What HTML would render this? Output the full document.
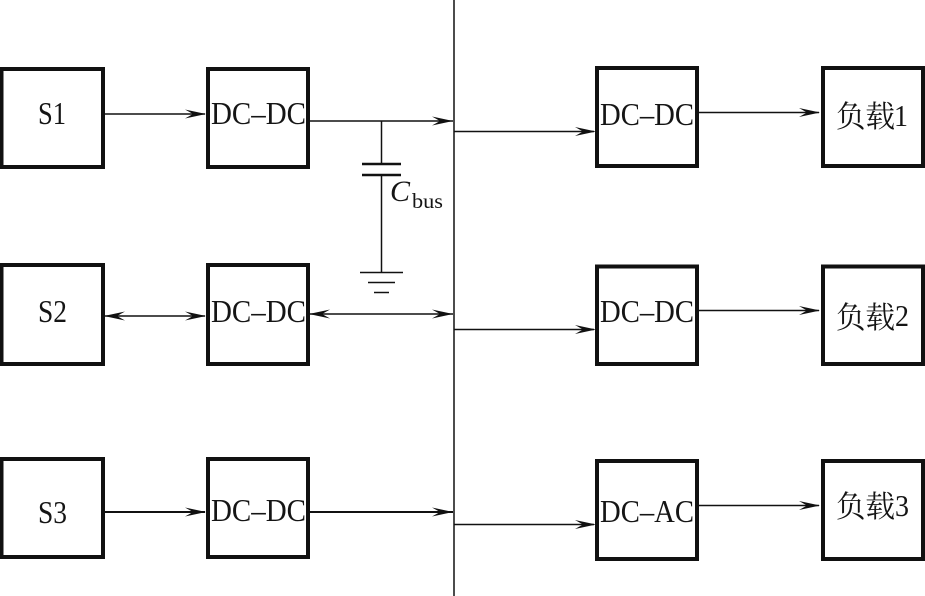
<!DOCTYPE html>
<html>
<head>
<meta charset="utf-8">
<style>
html,body{margin:0;padding:0;background:#fff;}
svg{display:block;}
text{font-family:"Liberation Serif","Noto Serif CJK SC",serif;fill:#151515;}
.b{fill:none;stroke:#111;stroke-width:4;}
.l{stroke:#111;stroke-width:1.5;fill:none;}
.h{fill:#111;stroke:none;}
</style>
</head>
<body>
<svg width="925" height="596" viewBox="0 0 925 596" xmlns="http://www.w3.org/2000/svg">
<defs>
<path id="a" d="M0 0 L-21 -4.5 L-13 0 L-21 4.5 Z"/>
<path id="r" d="M0 0 L21 -4.5 L13 0 L21 4.5 Z"/>
</defs>
<rect width="925" height="596" fill="#fff"/>

<!-- boxes -->
<rect class="b" x="1.5" y="69" width="101.5" height="98"/>
<rect class="b" x="208" y="69" width="100" height="98"/>
<rect class="b" x="1.5" y="265" width="101.5" height="99"/>
<rect class="b" x="208" y="265" width="100" height="99"/>
<rect class="b" x="1.5" y="459" width="101.5" height="98"/>
<rect class="b" x="208" y="459" width="100" height="98"/>
<rect class="b" x="597" y="68" width="100" height="98"/>
<rect class="b" x="823" y="68" width="100" height="98"/>
<rect class="b" x="597" y="266.5" width="100" height="97.5"/>
<rect class="b" x="823" y="266.5" width="100" height="97.5"/>
<rect class="b" x="597" y="461" width="100" height="98"/>
<rect class="b" x="823" y="461" width="100" height="98"/>

<!-- bus -->
<line class="l" x1="454" y1="0" x2="454" y2="596"/>

<!-- left connectors -->
<line class="l" x1="105" y1="114" x2="205" y2="114"/>
<use href="#a" class="h" transform="translate(206,114)"/>
<line class="l" x1="310" y1="121" x2="453" y2="121"/>
<use href="#a" class="h" transform="translate(453,121)"/>

<line class="l" x1="105" y1="316" x2="205" y2="316"/>
<use href="#r" class="h" transform="translate(104,316)"/>
<use href="#a" class="h" transform="translate(206,316)"/>
<line class="l" x1="310" y1="314" x2="453" y2="314"/>
<use href="#r" class="h" transform="translate(309,314)"/>
<use href="#a" class="h" transform="translate(453,314)"/>

<line class="l" x1="105" y1="512" x2="205" y2="512" style="stroke-width:2"/>
<use href="#a" class="h" transform="translate(206,512)"/>
<line class="l" x1="310" y1="512" x2="453" y2="512" style="stroke-width:2"/>
<use href="#a" class="h" transform="translate(453,512)"/>

<!-- right connectors -->
<line class="l" x1="454" y1="131.500" x2="594" y2="131.500"/>
<use href="#a" class="h" transform="translate(596,131.500)"/>
<line class="l" x1="699" y1="112.500" x2="819" y2="112.500"/>
<use href="#a" class="h" transform="translate(820,112.500)"/>

<line class="l" x1="454" y1="329.500" x2="594" y2="329.500"/>
<use href="#a" class="h" transform="translate(596,329.500)"/>
<line class="l" x1="699" y1="310.500" x2="819" y2="310.500"/>
<use href="#a" class="h" transform="translate(820,310.500)"/>

<line class="l" x1="454" y1="524.500" x2="594" y2="524.500"/>
<use href="#a" class="h" transform="translate(596,524.500)"/>
<line class="l" x1="699" y1="505.500" x2="819" y2="505.500"/>
<use href="#a" class="h" transform="translate(820,505.500)"/>

<!-- capacitor -->
<line class="l" x1="381.500" y1="121" x2="381.500" y2="164"/>
<line class="l" x1="381.500" y1="175" x2="381.500" y2="272"/>
<line x1="362" y1="164" x2="401" y2="164" stroke="#111" stroke-width="2.500"/>
<line x1="362" y1="175" x2="401" y2="175" stroke="#111" stroke-width="2.500"/>
<line class="l" x1="360" y1="272.500" x2="403" y2="272.500"/>
<line class="l" x1="368" y1="282.500" x2="395" y2="282.500"/>
<line class="l" x1="374" y1="292.500" x2="389" y2="292.500"/>

<!-- labels -->
<text x="38" y="124" font-size="32" textLength="28" lengthAdjust="spacingAndGlyphs">S1</text>
<text x="38" y="322" font-size="32" textLength="29" lengthAdjust="spacingAndGlyphs">S2</text>
<text x="38" y="523" font-size="32" textLength="29" lengthAdjust="spacingAndGlyphs">S3</text>

<text x="211" y="124" font-size="32" textLength="95" lengthAdjust="spacingAndGlyphs">DC–DC</text>
<text x="211" y="322" font-size="32" textLength="95" lengthAdjust="spacingAndGlyphs">DC–DC</text>
<text x="211" y="521" font-size="32" textLength="95" lengthAdjust="spacingAndGlyphs">DC–DC</text>

<text x="600" y="125" font-size="32" textLength="94" lengthAdjust="spacingAndGlyphs">DC–DC</text>
<text x="600" y="322" font-size="32" textLength="94" lengthAdjust="spacingAndGlyphs">DC–DC</text>
<text x="600" y="522" font-size="32" textLength="94" lengthAdjust="spacingAndGlyphs">DC–AC</text>

<text x="836" y="127" font-size="30" textLength="59" lengthAdjust="spacingAndGlyphs">负载</text>
<text x="894" y="126" font-size="31" textLength="14" lengthAdjust="spacingAndGlyphs">1</text>
<text x="836" y="328" font-size="30" textLength="59" lengthAdjust="spacingAndGlyphs">负载</text>
<text x="895" y="326" font-size="31" textLength="14" lengthAdjust="spacingAndGlyphs">2</text>
<text x="836" y="517" font-size="30" textLength="59" lengthAdjust="spacingAndGlyphs">负载</text>
<text x="895" y="516" font-size="31" textLength="14" lengthAdjust="spacingAndGlyphs">3</text>

<text x="390" y="201" font-size="30" font-style="italic">C</text>
<text x="412" y="208" font-size="21" textLength="31" lengthAdjust="spacingAndGlyphs">bus</text>
</svg>
</body>
</html>
